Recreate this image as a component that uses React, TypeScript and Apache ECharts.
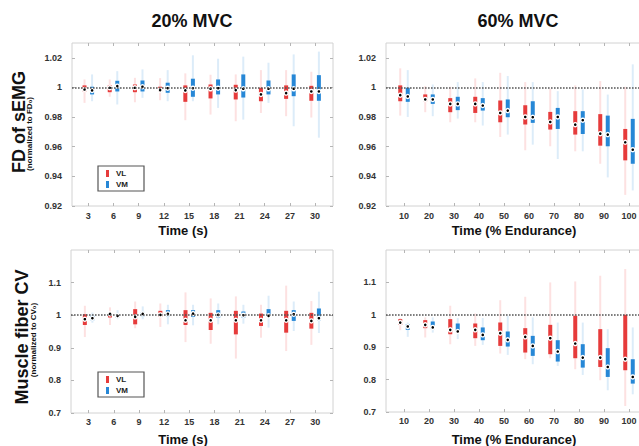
import React, { useEffect, useRef } from 'react';
import * as echarts from 'echarts';

// ---------- data ----------
const timeSec = ['3', '6', '9', '12', '15', '18', '21', '24', '27', '30'];
const timeEnd = ['10', '20', '30', '40', '50', '60', '70', '80', '90', '100'];
const yTicksFD = [0.92, 0.94, 0.96, 0.98, 1, 1.02];
const yTicksCV = [0.7, 0.8, 0.9, 1, 1.1];

// each item: [lowerWhisker, q1, median, q3, upperWhisker]
const fdVL20 = [
  [0.9896, 0.9973, 0.9986, 1.0014, 1.0054],
  [0.9937, 0.9968, 0.9998, 1.0014, 1.0054],
  [0.99, 0.9968, 0.9998, 1.002, 1.0065],
  [0.9914, 0.9971, 0.9982, 1.0005, 1.0063],
  [0.9779, 0.9903, 0.998, 1.0014, 1.0095],
  [0.9817, 0.9926, 0.9991, 1.002, 1.0086],
  [0.9772, 0.9919, 0.9982, 1.0018, 1.0088],
  [0.9828, 0.9907, 0.9953, 0.9998, 1.0117],
  [0.9806, 0.9923, 0.9962, 1.0014, 1.0117],
  [0.9797, 0.991, 0.9973, 1.0011, 1.0106],
];
const fdVM20 = [
  [0.9907, 0.9953, 0.998, 1.0005, 1.0088],
  [0.9885, 0.9973, 1.0009, 1.0045, 1.011],
  [0.993, 0.9973, 1.0005, 1.0047, 1.0122],
  [0.9907, 0.9964, 0.9995, 1.0032, 1.0117],
  [0.9907, 0.9937, 0.9995, 1.0059, 1.0217],
  [0.9862, 0.9953, 0.9995, 1.0054, 1.0194],
  [0.9783, 0.9932, 0.9991, 1.0088, 1.0208],
  [0.9896, 0.9953, 0.9991, 1.0047, 1.0167],
  [0.9738, 0.9941, 0.9991, 1.0088, 1.0223],
  [0.9661, 0.991, 0.9973, 1.0083, 1.0242],
];
const fdVL60 = [
  [0.981, 0.9907, 0.9948, 1.0014, 1.0129],
  [0.9833, 0.9907, 0.9919, 0.9953, 1.0009],
  [0.9765, 0.9833, 0.9889, 0.9928, 1.0005],
  [0.9765, 0.9828, 0.9889, 0.9937, 1.0061],
  [0.9666, 0.9765, 0.9828, 0.9912, 1.0099],
  [0.9576, 0.975, 0.9801, 0.988, 1.0036],
  [0.9603, 0.9716, 0.9767, 0.9835, 0.9991],
  [0.9569, 0.9682, 0.9749, 0.984, 1.0014],
  [0.9485, 0.9607, 0.9688, 0.982, 1.0043],
  [0.9275, 0.9508, 0.963, 0.972, 1.0005],
];
const fdVM60 = [
  [0.9801, 0.9903, 0.9939, 0.9998, 1.0117],
  [0.9806, 0.9889, 0.9919, 0.9953, 1.002],
  [0.979, 0.9847, 0.9889, 0.9937, 1.0036],
  [0.9743, 0.9844, 0.9878, 0.9928, 1.0036],
  [0.9682, 0.9799, 0.9844, 0.9919, 1.0077],
  [0.9614, 0.9761, 0.9799, 0.9907, 1.0036],
  [0.9517, 0.972, 0.9801, 0.9862, 0.9975],
  [0.9569, 0.9686, 0.9779, 0.984, 0.9986],
  [0.9393, 0.9603, 0.9682, 0.981, 0.9952],
  [0.9305, 0.9485, 0.958, 0.9788, 1.0156],
];
const cvVL20 = [
  [0.933, 0.97, 0.9876, 1.003, 1.029],
  [0.97, 0.993, 1.004, 1.008, 1.024],
  [0.96, 0.972, 0.995, 1.0186, 1.042],
  [0.964, 0.995, 1.001, 1.0134, 1.036],
  [0.9175, 0.97, 0.9845, 1.0155, 1.07],
  [0.9124, 0.9546, 0.9845, 1.0072, 1.0515],
  [0.867, 0.9412, 0.9845, 1.0134, 1.0577],
  [0.931, 0.967, 0.9845, 1.005, 1.032],
  [0.89, 0.9464, 0.9845, 1.0134, 1.0907],
  [0.909, 0.9588, 0.9825, 1.0072, 1.0433],
];
const cvVM20 = [
  [0.977, 0.9845, 0.9907, 0.998, 1.008],
  [0.9876, 0.9928, 0.998, 1.003, 1.0155],
  [0.9876, 0.997, 1.004, 1.01, 1.027],
  [0.972, 0.997, 1.004, 1.0155, 1.032],
  [0.969, 0.995, 1.005, 1.0155, 1.032],
  [0.972, 0.9928, 1.001, 1.0155, 1.036],
  [0.974, 0.9928, 1.0, 1.0113, 1.032],
  [0.962, 0.995, 0.998, 1.0186, 1.0598],
  [0.9515, 0.9825, 1.003, 1.0155, 1.042],
  [0.9454, 0.9845, 0.9907, 1.0206, 1.0722],
];
const cvVL60 = [
  [0.9526, 0.969, 0.976, 0.9866, 0.99],
  [0.93, 0.9588, 0.969, 0.9835, 0.992],
  [0.909, 0.94, 0.9536, 0.9866, 1.028],
  [0.904, 0.9278, 0.9536, 0.9732, 1.004],
  [0.8804, 0.904, 0.9433, 0.9763, 1.045],
  [0.863, 0.8835, 0.932, 0.9588, 1.0557],
  [0.866, 0.8784, 0.9278, 0.969, 1.1],
  [0.832, 0.866, 0.9113, 0.997, 1.103],
  [0.798, 0.839, 0.868, 0.9557, 1.1206],
  [0.7186, 0.8289, 0.8629, 1.0, 1.1412],
];
const cvVM60 = [
  [0.932, 0.9536, 0.964, 0.9711, 0.976],
  [0.945, 0.9557, 0.961, 0.9794, 0.992],
  [0.925, 0.9454, 0.9485, 0.9732, 0.99],
  [0.9072, 0.9216, 0.938, 0.961, 0.99],
  [0.8763, 0.902, 0.9227, 0.9485, 0.997],
  [0.8474, 0.8732, 0.904, 0.935, 0.992],
  [0.8423, 0.8557, 0.8866, 0.9216, 0.976],
  [0.8144, 0.837, 0.868, 0.9093, 0.976],
  [0.767, 0.8082, 0.839, 0.897, 0.9557],
  [0.7546, 0.7876, 0.8082, 0.8629, 0.961],
];

// ---------- styles ----------
const FONT = 'Liberation Sans, Arial, sans-serif';
const RED = '#e63b3b';
const RED_LIGHT = '#fde1e1';
const BLUE = '#2687d6';
const BLUE_LIGHT = '#dcecf9';

const grids = [
  { left: 72, top: 43, width: 261, height: 163 },
  { left: 386, top: 43, width: 261, height: 163 },
  { left: 71, top: 250, width: 262, height: 163 },
  { left: 386, top: 250, width: 261, height: 162 },
];
const xRanges = [
  [0.353, 10.71],
  [0.28, 10.72],
  [0.3, 10.71],
  [0.28, 10.72],
];
const panelCats = [timeSec, timeEnd, timeSec, timeEnd];
const panelY = [
  { min: 0.92, max: 1.03, ticks: yTicksFD },
  { min: 0.92, max: 1.03, ticks: yTicksFD },
  { min: 0.7, max: 1.2, ticks: yTicksCV },
  { min: 0.7, max: 1.2, ticks: yTicksCV },
];
const panelData = [
  [fdVL20, fdVM20],
  [fdVL60, fdVM60],
  [cvVL20, cvVM20],
  [cvVL60, cvVM60],
];
const labelMargins = [5, 5, 4, 4];

const OFFSET = 0.15;
const idx = [1, 2, 3, 4, 5, 6, 7, 8, 9, 10];

function makeRender(color: string, light: string) {
  return (params: any, api: any) => {
    const x = api.value(0);
    const wl = api.coord([x, api.value(1)]);
    const q1 = api.coord([x, api.value(2)]);
    const md = api.coord([x, api.value(3)]);
    const q3 = api.coord([x, api.value(4)]);
    const wh = api.coord([x, api.value(5)]);
    const cx = wl[0];
    return {
      type: 'group',
      children: [
        { type: 'line', shape: { x1: cx, y1: wh[1], x2: cx, y2: wl[1] }, style: { stroke: light, lineWidth: 2 } },
        { type: 'rect', shape: { x: cx - 2, y: q3[1], width: 4, height: q1[1] - q3[1] }, style: { fill: color } },
        { type: 'circle', shape: { cx, cy: md[1], r: 2.7 }, style: { fill: '#ffffff' } },
        { type: 'circle', shape: { cx, cy: md[1], r: 1.3 }, style: { fill: '#000000' } },
      ],
    };
  };
}

function buildOption() {
  const xAxis: any[] = [];
  const yAxis: any[] = [];
  const series: any[] = [];
  grids.forEach((g, gi) => {
    const cats = panelCats[gi];
    const fmtX = (v: number) => cats[Math.round(v) - 1] ?? '';
    const tickStyle = { show: true, inside: true, length: 3, lineStyle: { color: '#b5b5b5', width: 1 } };
    xAxis.push({
      type: 'value', gridIndex: gi, position: 'bottom',
      min: xRanges[gi][0], max: xRanges[gi][1],
      axisLine: { show: false }, splitLine: { show: false },
      axisTick: { ...tickStyle, customValues: idx },
      axisLabel: {
        customValues: idx, formatter: fmtX, margin: labelMargins[gi],
        fontFamily: FONT, fontWeight: 'bold', fontSize: 9, color: '#333',
      },
    });
    xAxis.push({
      type: 'value', gridIndex: gi, position: 'top',
      min: xRanges[gi][0], max: xRanges[gi][1],
      axisLine: { show: false }, splitLine: { show: false },
      axisTick: { ...tickStyle, customValues: idx },
      axisLabel: { show: false },
    });
    const py = panelY[gi];
    const fmtY = (v: number) => String(Math.round(v * 100) / 100);
    yAxis.push({
      type: 'value', gridIndex: gi, position: 'left',
      min: py.min, max: py.max,
      axisLine: { show: false }, splitLine: { show: false },
      axisTick: { ...tickStyle, customValues: py.ticks },
      axisLabel: {
        customValues: py.ticks, formatter: fmtY, margin: 10,
        fontFamily: FONT, fontWeight: 'bold', fontSize: 9, color: '#333',
      },
    });
    yAxis.push({
      type: 'value', gridIndex: gi, position: 'right',
      min: py.min, max: py.max,
      axisLine: { show: false }, splitLine: { show: false },
      axisTick: { ...tickStyle, customValues: py.ticks },
      axisLabel: { show: false },
    });
    // reference line at 1
    series.push({
      type: 'line', xAxisIndex: gi * 2, yAxisIndex: gi * 2, data: [], z: 1,
      markLine: {
        silent: true, symbol: ['none', 'none'], label: { show: false },
        lineStyle: { color: '#555', width: 1.6, type: [1.6, 1.4] },
        data: [{ yAxis: 1 }],
      },
    });
    const [vl, vm] = panelData[gi];
    series.push({
      type: 'custom', name: 'VL', xAxisIndex: gi * 2, yAxisIndex: gi * 2, z: 3,
      renderItem: makeRender(RED, RED_LIGHT),
      encode: { x: 0, y: [1, 2, 3, 4, 5] },
      data: vl.map((v, i) => [i + 1 - OFFSET, ...v]),
    });
    series.push({
      type: 'custom', name: 'VM', xAxisIndex: gi * 2, yAxisIndex: gi * 2, z: 3,
      renderItem: makeRender(BLUE, BLUE_LIGHT),
      encode: { x: 0, y: [1, 2, 3, 4, 5] },
      data: vm.map((v, i) => [i + 1 + OFFSET, ...v]),
    });
  });

  const txt = (x: number, y: number, text: string, size: number, extra: any = {}) => ({
    type: 'text', x, y, z: 10,
    style: {
      text, fontFamily: FONT, fontWeight: 'bold', fontSize: size, fill: '#111',
      align: 'center', verticalAlign: 'middle',
    },
    ...extra,
  });
  const legend = (y0: number) => [
    { type: 'rect', shape: { x: 98, y: y0, width: 46, height: 25 }, style: { fill: '#fff', stroke: '#555', lineWidth: 1.2 }, z: 10 },
    { type: 'rect', shape: { x: 106, y: y0 + 4, width: 3, height: 7 }, style: { fill: RED }, z: 11 },
    { type: 'rect', shape: { x: 106, y: y0 + 15, width: 3, height: 7 }, style: { fill: BLUE }, z: 11 },
    { type: 'text', x: 116, y: y0 + 7.5, z: 11, style: { text: 'VL', fontFamily: FONT, fontWeight: 'bold', fontSize: 8, fill: '#222', align: 'left', verticalAlign: 'middle' } },
    { type: 'text', x: 116, y: y0 + 18.5, z: 11, style: { text: 'VM', fontFamily: FONT, fontWeight: 'bold', fontSize: 8, fill: '#222', align: 'left', verticalAlign: 'middle' } },
  ];

  const graphic = [
    txt(192, 21, '20% MVC', 18),
    txt(518, 21, '60% MVC', 18),
    txt(19, 122, 'FD of sEMG', 18, { rotation: Math.PI / 2 }),
    txt(29.5, 134, '(normalized to FD\u2080)', 8, { rotation: Math.PI / 2 }),
    txt(21.5, 337, 'Muscle fiber CV', 18, { rotation: Math.PI / 2 }),
    txt(33, 340, '(normalized to CV\u2080)', 8, { rotation: Math.PI / 2 }),
    txt(183, 230, 'Time (s)', 13),
    txt(514, 230, 'Time (% Endurance)', 13),
    txt(183, 439, 'Time (s)', 13),
    txt(514, 439, 'Time (% Endurance)', 13),
    ...legend(166),
    ...legend(372),
  ];

  return {
    animation: false,
    backgroundColor: '#ffffff',
    grid: grids.map((g) => ({
      ...g, show: true, borderColor: '#d2d2d2', borderWidth: 1, backgroundColor: '#fff',
      containLabel: false, outerBoundsMode: 'none',
    })),
    xAxis, yAxis, series, graphic,
  };
}

export default function App() {
  const ref = useRef<HTMLDivElement>(null);
  useEffect(() => {
    if (!ref.current) return;
    const chart = echarts.init(ref.current, undefined, { renderer: 'svg' });
    chart.setOption(buildOption() as any);
    return () => chart.dispose();
  }, []);
  return (
    <div
      ref={ref}
      style={{ position: 'fixed', left: 0, top: 0, width: 639, height: 446, background: '#fff' }}
    />
  );
}
